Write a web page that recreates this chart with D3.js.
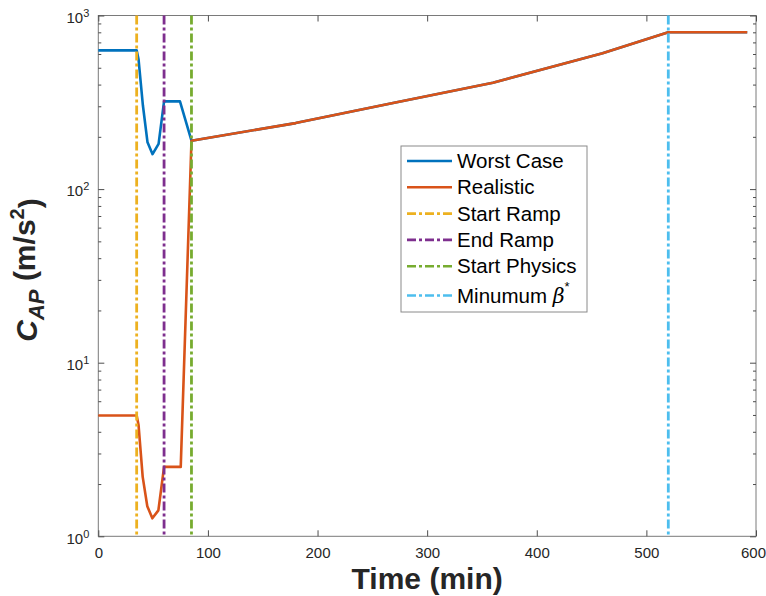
<!DOCTYPE html>
<html>

<head>
    <meta charset="utf-8">
    <style>
        body {
            margin: 0;
            background: #fff;
            font-family: 'Liberation Sans', Arial, sans-serif;
        }

        svg {
            display: block;
        }

        .axis .domain {
            display: none;
        }

        .axis .tick line {
            stroke: #4d4d4d;
        }

        .axis .tick text {
            font-size: 15px;
            fill: #262626;
        }

        .axis-label {
            font-size: 30px;
            font-weight: bold;
            fill: #262626;
        }

        .legend text {
            font-size: 20.5px;
            fill: #000;
        }
    </style>
</head>

<body>
    <svg width="766" height="596"></svg>
</body>

<script src="https://d3js.org/d3.v7.min.js"></script>

<script>
    // values
    let timeWorst = [0, 35, 36.7, 40.7, 44.9, 49.5, 55, 60, 74.5, 85, 180, 270, 360, 460, 520, 592]
    let worstCase = [630, 630, 560, 303, 186, 159, 182, 320, 320, 190, 240, 314, 410, 607, 800, 800]

    let timeReal = [0, 35, 36.7, 40.5, 44.7, 49.3, 54.8, 60, 75.2, 85, 180, 270, 360, 460, 520, 592]
    let realistic = [4.96, 4.96, 4.38, 2.2, 1.49, 1.27, 1.41, 2.51, 2.51, 190, 240, 314, 410, 607, 800, 800]

    let markerNames = ["Start Ramp", "End Ramp", "Start Physics", "Minumum β"]
    let markerTimes = [35, 60, 85, 520]

    let xTicks = [0, 100, 200, 300, 400, 500, 600]
    let yTicks = [1, 10, 100, 1000]

    let colors = {
        "Worst Case": "#0072BD",
        "Realistic": "#D95319",
        "Start Ramp": "#EDB120",
        "End Ramp": "#7E2F8E",
        "Start Physics": "#77AC30",
        "Minumum β": "#4DBEEE"
    }

    let margin = { top: 15.5, right: 10, bottom: 60, left: 98.3 }

    let svg = d3.select("svg")

    let x = d3.scaleLinear()
        .domain([0, 600])
        .range([margin.left, 756])

    let y = d3.scaleLog()
        .domain([1, 1000])
        .range([536.3, margin.top])

    let minorTicks = []
    yTicks.slice(0, -1).forEach(function (d) {
        for (let k = 2; k < 10; k++) minorTicks.push(d * k)
    })

    // box
    svg.append("rect")
        .attr("x", x(0))
        .attr("y", y(1000))
        .attr("width", x(600) - x(0))
        .attr("height", y(1) - y(1000))
        .attr("fill", "none")
        .attr("stroke", "#7a7a7a")
        .attr("stroke-width", 1)

    // bottom + top x axes, ticks inside
    svg.append("g")
        .attr("class", "axis x")
        .attr("transform", `translate(0,${y(1)})`)
        .call(d3.axisBottom(x).tickValues(xTicks).tickSizeInner(-6).tickSizeOuter(0).tickPadding(11))
        .call(g => g.selectAll(".tick text").filter(d => d == 600).attr("dx", -3))

    svg.append("g")
        .attr("class", "axis x-top")
        .attr("transform", `translate(0,${y(1000)})`)
        .call(d3.axisTop(x).tickValues(xTicks).tickSizeInner(-6).tickSizeOuter(0))
        .call(g => g.selectAll("text").remove())

    // left + right y axes
    let yLeft = svg.append("g")
        .attr("class", "axis y")
        .attr("transform", `translate(${x(0)},0)`)
        .call(d3.axisLeft(y).tickValues(yTicks).tickSizeInner(-6).tickSizeOuter(0).tickPadding(9).tickFormat(""))

    yLeft.selectAll(".tick text")
        .attr("dy", "0.45em")
        .each(function (d) {
            let t = d3.select(this)
            t.append("tspan").text("10")
            t.append("tspan")
                .attr("dy", "-0.55em")
                .attr("font-size", "11px")
                .text(Math.round(Math.log10(d)))
        })

    svg.append("g")
        .attr("class", "axis y-minor")
        .attr("transform", `translate(${x(0)},0)`)
        .call(d3.axisLeft(y).tickValues(minorTicks).tickSizeInner(-3).tickSizeOuter(0).tickFormat(""))

    svg.append("g")
        .attr("class", "axis y-right")
        .attr("transform", `translate(${x(600)},0)`)
        .call(d3.axisRight(y).tickValues(yTicks).tickSizeInner(-6).tickSizeOuter(0).tickFormat(""))

    svg.append("g")
        .attr("class", "axis y-right-minor")
        .attr("transform", `translate(${x(600)},0)`)
        .call(d3.axisRight(y).tickValues(minorTicks).tickSizeInner(-3).tickSizeOuter(0).tickFormat(""))

    // lines
    let line = d3.line()
        .x(d => x(d[0]))
        .y(d => y(d[1]))

    let plot = svg.append("g")

    plot.append("path")
        .attr("d", line(d3.zip(timeWorst, worstCase)))
        .attr("fill", "none")
        .attr("stroke", colors["Worst Case"])
        .attr("stroke-width", 2.6)
        .attr("stroke-linejoin", "round")

    plot.append("path")
        .attr("d", line(d3.zip(timeReal, realistic)))
        .attr("fill", "none")
        .attr("stroke", colors["Realistic"])
        .attr("stroke-width", 2.6)
        .attr("stroke-linejoin", "round")

    plot.selectAll(".marker")
        .data(markerNames)
        .join("line")
        .attr("class", "marker")
        .attr("x1", (d, i) => x(markerTimes[i]))
        .attr("x2", (d, i) => x(markerTimes[i]))
        .attr("y1", y(1000))
        .attr("y2", y(1))
        .attr("stroke", d => colors[d])
        .attr("stroke-width", 2.8)
        .attr("stroke-dasharray", "9,3,3,3")

    // axis labels
    svg.append("text")
        .attr("class", "axis-label")
        .attr("x", (x(0) + x(600)) / 2)
        .attr("y", 589)
        .attr("text-anchor", "middle")
        .text("Time (min)")

    let yLab = svg.append("text")
        .attr("class", "axis-label")
        .attr("transform", "translate(37,270) rotate(-90)")
        .attr("text-anchor", "middle")
    yLab.append("tspan").attr("font-style", "italic").text("C")
    yLab.append("tspan").attr("font-style", "italic").attr("font-size", "22px").attr("dy", "0.3em").text("AP")
    yLab.append("tspan").attr("dy", "-0.3em").text(" (m/s")
    yLab.append("tspan").attr("font-size", "20px").attr("dy", "-0.55em").text("2")
    yLab.append("tspan").attr("dy", "0.55em").text(")")

    // legend
    let legendKeys = ["Worst Case", "Realistic"].concat(markerNames)
    let legend = svg.append("g").attr("class", "legend")

    legend.append("rect")
        .attr("x", 401)
        .attr("y", 146)
        .attr("width", 186)
        .attr("height", 166)
        .attr("fill", "#fff")
        .attr("stroke", "#8a8a8a")
        .attr("stroke-width", 1)

    let rows = legend.selectAll(".row")
        .data(legendKeys)
        .join("g")
        .attr("class", "row")
        .attr("transform", (d, i) => `translate(0,${161 + i * 26.3 + (i == 5 ? 3 : 0)})`)

    rows.append("line")
        .attr("x1", 407)
        .attr("x2", 452)
        .attr("stroke", d => colors[d])
        .attr("stroke-width", 2.6)
        .attr("stroke-dasharray", (d, i) => i < 2 ? null : "9,3,3,3")

    rows.append("text")
        .attr("x", 457)
        .attr("dy", "0.35em")
        .each(function (d) {
            let t = d3.select(this)
            if (d == "Minumum β") {
                t.append("tspan").text("Minumum ")
                t.append("tspan").attr("font-style", "italic").attr("font-family", "'DejaVu Serif', serif").text("β")
                t.append("tspan").attr("font-size", "13px").attr("dy", "-0.9em").text("*")
            } else {
                t.text(d)
            }
        })
</script>

</html>
